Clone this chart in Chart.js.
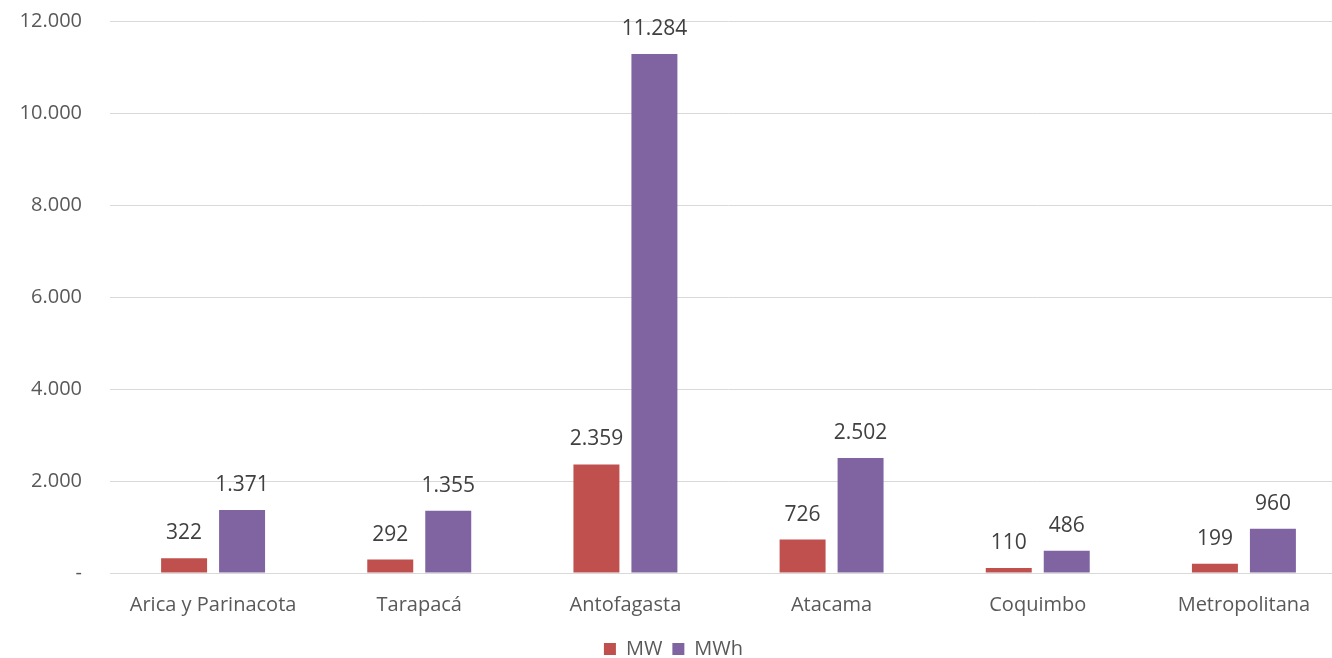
<!DOCTYPE html>
<html>
<head>
<meta charset="utf-8">
<script src="https://cdn.jsdelivr.net/npm/chart.js@4"></script>
<style>
  html, body { margin: 0; padding: 0; background: #fff; overflow: hidden; }
  #wrap { position: relative; top: -19px; width: 1384px; height: 688px; }
</style>
</head>
<body>
<div id="wrap"><canvas id="chart"></canvas></div>
<script>
const regions = ['Arica y Parinacota', 'Tarapacá', 'Antofagasta', 'Atacama', 'Coquimbo', 'Metropolitana'];
const mwValues = [322, 292, 2359, 726, 110, 199];
const mwhValues = [1371, 1355, 11284, 2502, 486, 960];
const yTicks = [0, 2000, 4000, 6000, 8000, 10000, 12000];

const FONT = '"Open Sans", sans-serif';

function fmt(n) {
  return String(n).replace(/\B(?=(\d{3})+(?!\d))/g, '.');
}

const barLabels = {
  id: 'barLabels',
  afterDatasetsDraw(chart) {
    const ctx = chart.ctx;
    ctx.save();
    ctx.font = '21px ' + FONT;
    ctx.fillStyle = '#404040';
    ctx.textAlign = 'center';
    ctx.textBaseline = 'middle';
    chart.data.datasets.forEach((ds, i) => {
      chart.getDatasetMeta(i).data.forEach((bar, j) => {
        ctx.fillText(fmt(ds.data[j]), bar.x, bar.y - 25);
      });
    });
    ctx.restore();
  }
};

const ctx = document.getElementById('chart').getContext('2d');
new Chart(ctx, {
  type: 'bar',
  data: {
    labels: regions,
    datasets: [
      { label: 'MW', data: mwValues, backgroundColor: '#C0504D', categoryPercentage: 0.5625, barPercentage: 0.793 },
      { label: 'MWh', data: mwhValues, backgroundColor: '#8064A2', categoryPercentage: 0.5625, barPercentage: 0.793 }
    ]
  },
  options: {
    responsive: true,
    maintainAspectRatio: false,
    animation: false,
    layout: { padding: { top: 2, right: 37, left: 0, bottom: 0 } },
    scales: {
      x: {
        grid: { display: false },
        border: { color: '#d9d9d9' },
        ticks: { color: '#595959', font: { size: 20, family: FONT }, padding: 12, maxRotation: 0 }
      },
      y: {
        min: 0,
        max: 12000,
        afterFit: s => { s.width = 110; },
        afterBuildTicks: s => { s.ticks = yTicks.map(v => ({ value: v })); },
        grid: { color: '#d9d9d9', drawTicks: false },
        border: { display: false },
        ticks: {
          color: '#595959',
          font: { size: 20, family: FONT },
          padding: 28,
          callback: v => v === 0 ? '-' : fmt(v)
        }
      }
    },
    plugins: {
      tooltip: { enabled: false },
      legend: {
        position: 'bottom',
        labels: {
          color: '#595959',
          font: { size: 20, family: FONT },
          boxWidth: 12,
          boxHeight: 12,
          padding: 10
        }
      }
    }
  },
  plugins: [barLabels]
});
</script>
</body>
</html>
